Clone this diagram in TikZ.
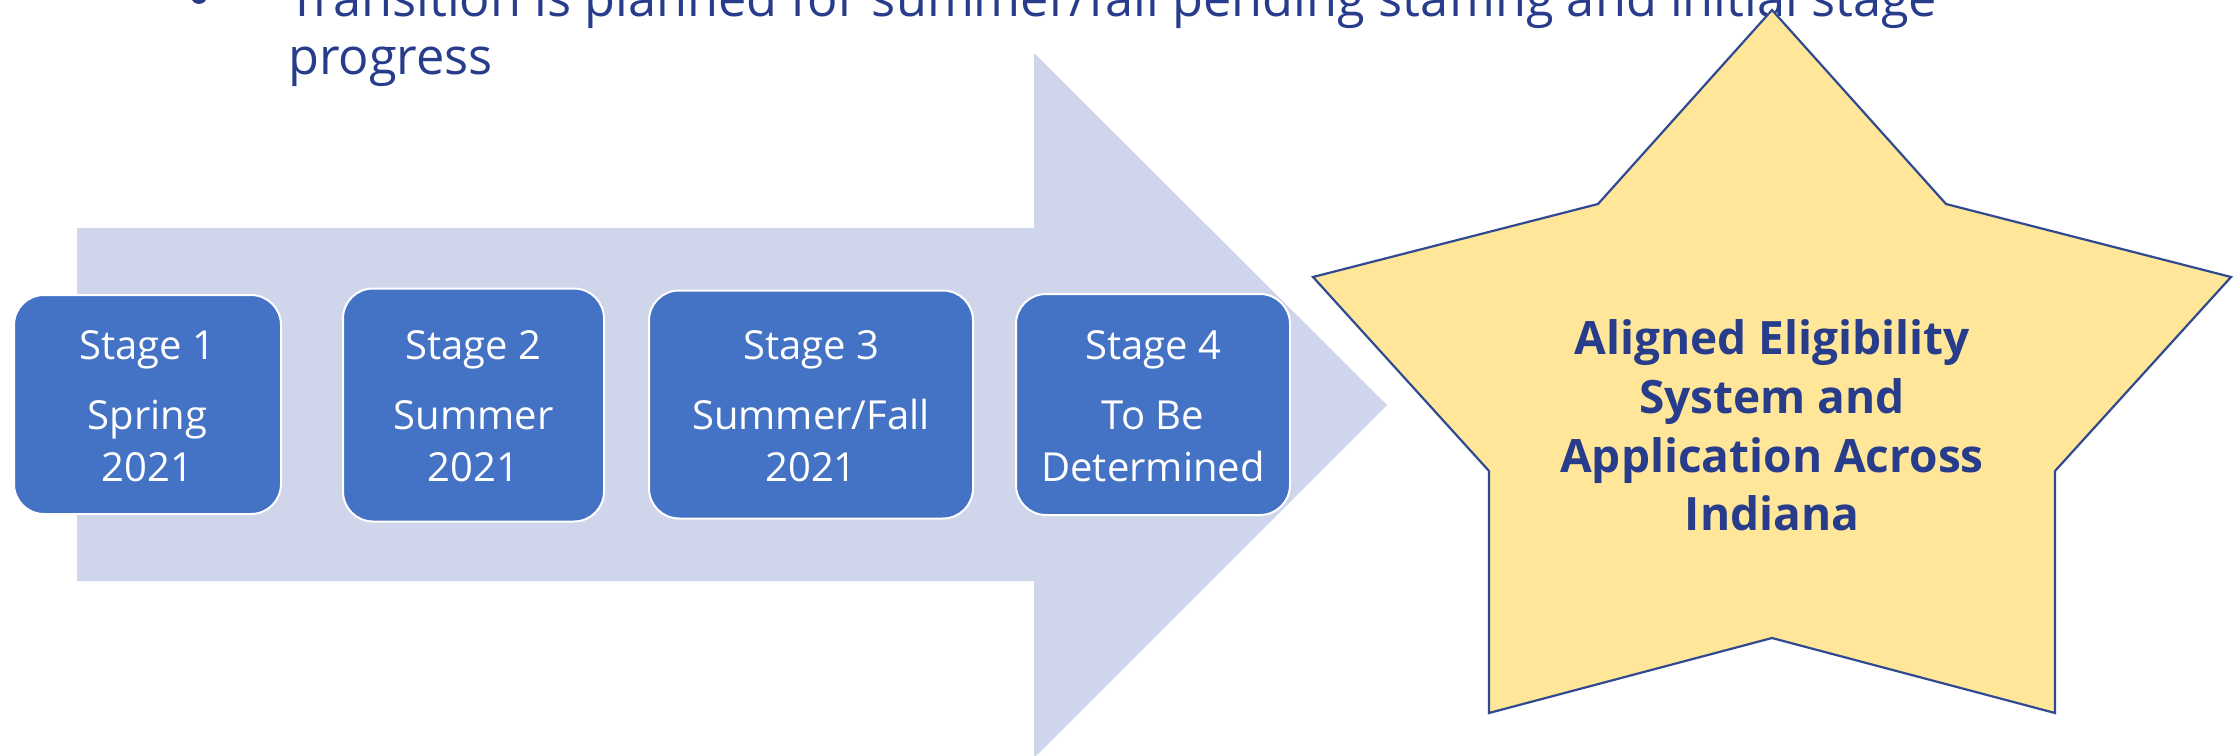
\documentclass[tikz,border=0pt]{standalone}
\usepackage{fontspec}
\setmainfont{Open Sans}
\definecolor{titleblue}{RGB}{40,60,140}
\definecolor{arrowfill}{RGB}{207,213,234}
\definecolor{boxblue}{RGB}{68,114,196}
\definecolor{starfill}{RGB}{255,230,153}
\definecolor{starline}{RGB}{47,74,145}
\begin{document}
\begin{tikzpicture}[x=1pt,y=-1pt,
  stagebox/.style={draw=white, line width=2pt, fill=boxblue, rounded corners=30pt, inner sep=0pt},
  boxtext/.style={text=white, font=\fontsize{40}{48}\selectfont, anchor=base, inner sep=0pt},
  toptext/.style={text=titleblue, font=\fontsize{50.5}{58}\selectfont, anchor=base west, inner sep=0pt},
  startext/.style={text=titleblue, font=\bfseries\fontsize{46}{58}\selectfont, anchor=base, inner sep=0pt},
  bigarrow/.style={fill=arrowfill, draw=none},
  starshape/.style={fill=starfill, draw=starline, line width=2.2pt, line join=miter}]
\useasboundingbox (0,0) rectangle (2237,755);
\clip (0,0) rectangle (2237,755);
% top text
\node[circle, fill=titleblue, inner sep=0pt, minimum size=16pt] (bullet) at (199,-4) {};
\node[toptext] (line1) at (288,16) {Transition is planned for summer/fall pending staffing and initial stage};
\node[toptext] (line2) at (288,74) {progress};
% big arrow
\path[bigarrow] (77,228) -- (1034,228) -- (1034,53) -- (1387,405) -- (1034,758) -- (1034,581) -- (77,581) -- cycle;
% stage boxes
\node[stagebox, minimum width=267pt, minimum height=219pt] (s1) at (147.5,404.5) {};
\node[stagebox, minimum width=261pt, minimum height=233pt] (s2) at (473.5,405) {};
\node[stagebox, minimum width=324pt, minimum height=228pt] (s3) at (811,404.5) {};
\node[stagebox, minimum width=274pt, minimum height=221pt] (s4) at (1153,404.5) {};
\node[boxtext] (s1a) at (147.5,359) {Stage 1};
\node[boxtext] (s1b) at (147.5,429) {Spring};
\node[boxtext] (s1c) at (147.5,481) {2021};
\node[boxtext] (s2a) at (473.5,359) {Stage 2};
\node[boxtext] (s2b) at (473.5,429) {Summer};
\node[boxtext] (s2c) at (473.5,481) {2021};
\node[boxtext] (s3a) at (811,359) {Stage 3};
\node[boxtext] (s3b) at (811,429) {Summer/Fall};
\node[boxtext] (s3c) at (811,481) {2021};
\node[boxtext] (s4a) at (1153,359) {Stage 4};
\node[boxtext] (s4b) at (1153,429) {To Be};
\node[boxtext] (s4c) at (1153,481) {Determined};
% star
\draw[starshape] (1772,10) -- (1946,204) -- (2231,277) -- (2055,471) -- (2055,713) -- (1772,638) -- (1489,713) -- (1489,471) -- (1313,277) -- (1598,204) -- cycle;
\node[startext] (t1) at (1772,354) {Aligned Eligibility};
\node[startext] (t2) at (1772,413) {System and};
\node[startext] (t3) at (1772,472) {Application Across};
\node[startext] (t4) at (1772,530) {Indiana};
\end{tikzpicture}
\end{document}
